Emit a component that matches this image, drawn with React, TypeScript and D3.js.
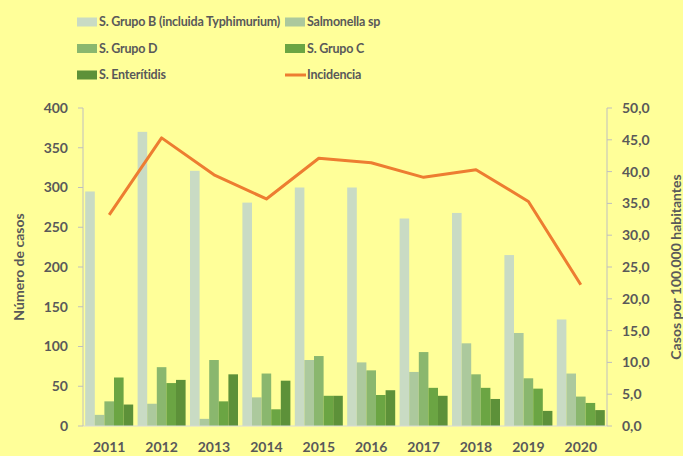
import { useEffect, useRef } from 'react'
import * as d3 from 'd3'

const years = ['2011', '2012', '2013', '2014', '2015', '2016', '2017', '2018', '2019', '2020']
const seriesNames = ['S. Grupo B (incluida Typhimurium)', 'Salmonella sp', 'S. Grupo D', 'S. Grupo C', 'S. Enterítidis']
const grupoB = [295, 370, 321, 281, 300, 300, 261, 268, 215, 134]
const salmonellaSp = [14, 28, 9, 36, 83, 80, 68, 104, 117, 66]
const grupoD = [31, 74, 83, 66, 88, 70, 93, 65, 60, 37]
const grupoC = [61, 54, 31, 21, 38, 39, 48, 48, 47, 29]
const enteritidis = [27, 58, 65, 57, 38, 45, 38, 34, 19, 20]
const incidencia = [33.2, 45.3, 39.5, 35.7, 42.1, 41.4, 39.1, 40.3, 35.3, 22.2]
const leftTicks = [0, 50, 100, 150, 200, 250, 300, 350, 400]
const rightTicks = [0, 5, 10, 15, 20, 25, 30, 35, 40, 45, 50]

const colors = ['#C9DBC4', '#ACC99D', '#8AB76E', '#6BA543', '#5D9139']
const lineColor = '#ED7D31'
const textColor = '#595959'
const font = 'Lato, "Open Sans", sans-serif'

export default function App() {
  const svgRef = useRef<SVGSVGElement>(null)

  useEffect(() => {
    if (!svgRef.current) return
    const svg = d3.select(svgRef.current)
    svg.selectAll('*').remove()

    const width = 683
    const height = 456
    const margin = { top: 108, right: 76, bottom: 30, left: 83 }
    const innerWidth = width - margin.left - margin.right
    const innerHeight = height - margin.top - margin.bottom

    svg.append('rect').attr('width', width).attr('height', height).attr('fill', '#FFFF99')

    const g = svg.append('g').attr('transform', `translate(${margin.left},${margin.top})`)

    const x = d3.scaleBand().domain(years).range([0, innerWidth]).paddingInner(0).paddingOuter(0)
    const xs = d3.scaleBand().domain(seriesNames).range([2.2, x.bandwidth() - 2.2])
    const y = d3.scaleLinear().domain([0, 400]).range([innerHeight, 0])
    const y2 = d3.scaleLinear().domain([0, 50]).range([innerHeight, 0])

    const series = [grupoB, salmonellaSp, grupoD, grupoC, enteritidis]
    const rows = years.map((yr, i) => ({ yr, vals: series.map(s => s[i]) }))

    // bars
    const groups = g.selectAll('.grp')
      .data(rows)
      .enter()
      .append('g')
      .attr('transform', d => `translate(${x(d.yr)},0)`)
    groups.selectAll('rect')
      .data(d => d.vals.map((v, k) => ({ v, k })))
      .enter()
      .append('rect')
      .attr('x', d => xs(seriesNames[d.k])!)
      .attr('y', d => y(d.v))
      .attr('width', xs.bandwidth())
      .attr('height', d => innerHeight - y(d.v))
      .attr('fill', d => colors[d.k])

    // axes lines
    const axisColor = '#BFBFBF'
    g.append('line').attr('x1', 0).attr('x2', innerWidth).attr('y1', innerHeight).attr('y2', innerHeight)
      .attr('stroke', '#D9D9D9').attr('stroke-width', 1)
    g.append('line').attr('x1', 0).attr('x2', 0).attr('y1', 0).attr('y2', innerHeight)
      .attr('stroke', axisColor)
    g.append('line').attr('x1', innerWidth).attr('x2', innerWidth).attr('y1', 0).attr('y2', innerHeight)
      .attr('stroke', axisColor)

    // left ticks
    g.selectAll('.lt')
      .data(leftTicks)
      .enter()
      .append('line')
      .attr('x1', -5).attr('x2', 0)
      .attr('y1', d => y(d)).attr('y2', d => y(d))
      .attr('stroke', axisColor)
    g.selectAll('.ll')
      .data(leftTicks)
      .enter()
      .append('text')
      .attr('x', -15)
      .attr('y', d => y(d))
      .attr('dy', '0.35em')
      .attr('text-anchor', 'end')
      .attr('font-family', font)
      .attr('font-weight', 'bold')
      .attr('font-size', '14px')
      .attr('fill', textColor)
      .text(d => d)

    // right ticks
    g.selectAll('.rt')
      .data(rightTicks)
      .enter()
      .append('line')
      .attr('x1', innerWidth).attr('x2', innerWidth + 5)
      .attr('y1', d => y2(d)).attr('y2', d => y2(d))
      .attr('stroke', axisColor)
    g.selectAll('.rl')
      .data(rightTicks)
      .enter()
      .append('text')
      .attr('x', innerWidth + 15)
      .attr('y', d => y2(d))
      .attr('dy', '0.35em')
      .attr('font-family', font)
      .attr('font-weight', 'bold')
      .attr('font-size', '14px')
      .attr('fill', textColor)
      .text(d => d.toFixed(1).replace('.', ','))

    // year labels
    g.selectAll('.xl')
      .data(years)
      .enter()
      .append('text')
      .attr('x', d => x(d)! + x.bandwidth() / 2)
      .attr('y', innerHeight + 21)
      .attr('dy', '0.35em')
      .attr('text-anchor', 'middle')
      .attr('font-family', font)
      .attr('font-weight', 'bold')
      .attr('font-size', '14px')
      .attr('fill', textColor)
      .text(d => d)

    // incidence line
    const line = d3.line<number>()
      .x((_, i) => x(years[i])! + x.bandwidth() / 2)
      .y(d => y2(d))
    g.append('path')
      .datum(incidencia)
      .attr('d', line)
      .attr('fill', 'none')
      .attr('stroke', lineColor)
      .attr('stroke-width', 3)
      .attr('stroke-linejoin', 'round')

    // axis titles
    svg.append('text')
      .attr('transform', `translate(24,${margin.top + innerHeight / 2}) rotate(-90)`)
      .attr('text-anchor', 'middle')
      .attr('font-family', font)
      .attr('font-weight', 'bold')
      .attr('font-size', '14px')
      .attr('fill', textColor)
      .text('Número de casos')
    svg.append('text')
      .attr('transform', `translate(681,${margin.top + innerHeight / 2}) rotate(-90)`)
      .attr('text-anchor', 'middle')
      .attr('font-family', font)
      .attr('font-weight', 'bold')
      .attr('font-size', '14px')
      .attr('fill', textColor)
      .text('Casos por 100.000 habitantes')

    // legend
    const legendItems = [...seriesNames.map((n, k) => ({ name: n, color: colors[k], line: false })),
      { name: 'Incidencia', color: lineColor, line: true }]
    const leg = svg.append('g')
    legendItems.forEach((item, i) => {
      const col = i % 2
      const row = Math.floor(i / 2)
      const lx = col === 0 ? 77 : 285
      const ly = 22 + row * 26.5
      if (item.line) {
        leg.append('line').attr('x1', lx).attr('x2', lx + 21).attr('y1', ly).attr('y2', ly)
          .attr('stroke', item.color).attr('stroke-width', 3)
      } else {
        leg.append('rect').attr('x', lx).attr('y', ly - 4.5).attr('width', 20).attr('height', 9)
          .attr('fill', item.color)
      }
      leg.append('text')
        .attr('x', lx + 22)
        .attr('y', ly)
        .attr('dy', '0.35em')
        .attr('font-family', font)
        .attr('font-weight', 'bold')
        .attr('font-size', '12.5px')
        .attr('letter-spacing', '-0.2px')
        .attr('fill', textColor)
        .text(item.name)
    })
  }, [])

  return (
    <div style={{ position: 'fixed', top: 0, left: 0, width: 683, height: 456, overflow: 'hidden' }}>
      <svg ref={svgRef} width={683} height={456} style={{ display: 'block' }} />
    </div>
  )
}
